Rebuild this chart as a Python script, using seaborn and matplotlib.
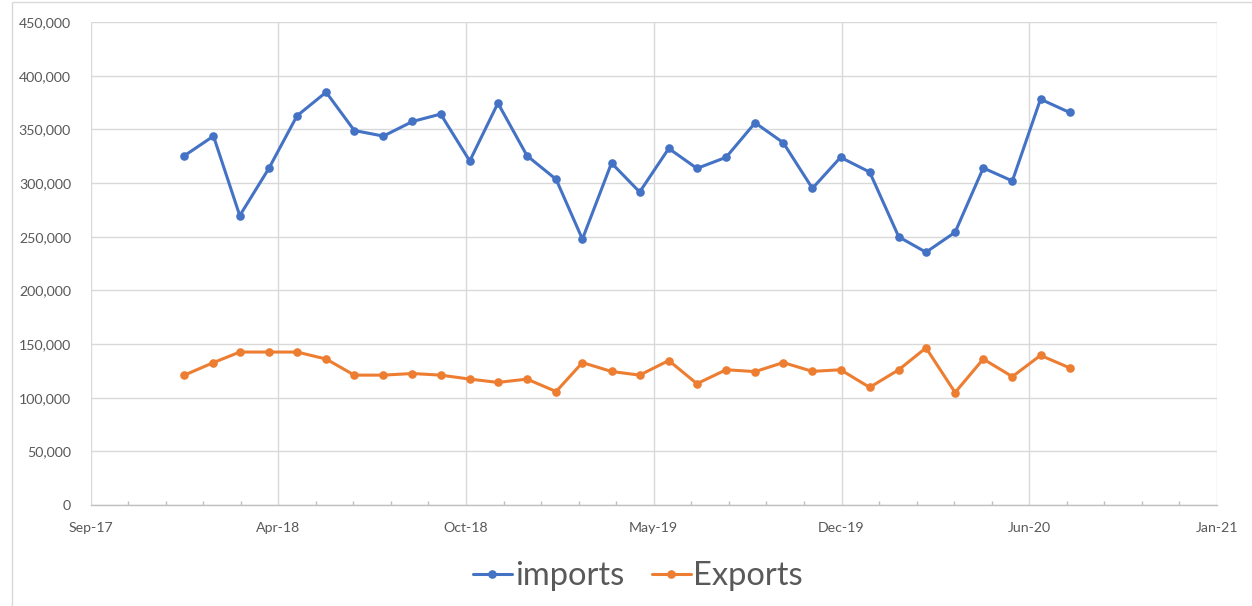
import matplotlib
matplotlib.use("Agg")
import matplotlib.pyplot as plt
import matplotlib.dates as mdates
import matplotlib.ticker as mticker
from matplotlib.patches import Rectangle
import numpy as np
import pandas as pd
import seaborn as sns

# ---------------- data ----------------
months = ["2018-01", "2018-02", "2018-03", "2018-04", "2018-05", "2018-06",
          "2018-07", "2018-08", "2018-09", "2018-10", "2018-11", "2018-12",
          "2019-01", "2019-02", "2019-03", "2019-04", "2019-05", "2019-06",
          "2019-07", "2019-08", "2019-09", "2019-10", "2019-11", "2019-12",
          "2020-01", "2020-02", "2020-03", "2020-04", "2020-05", "2020-06",
          "2020-07", "2020-08"]
imports = [325400, 343700, 269600, 313600, 362600, 384600, 348900, 343700,
           357300, 364200, 320500, 374400, 325400, 303400, 247700, 318600,
           291600, 332200, 313600, 323900, 356100, 337500, 295000, 323900,
           310200, 249800, 235500, 254100, 314000, 301900, 378100, 365700]
exports = [121000, 132700, 142500, 142500, 142500, 136000, 121000, 121000,
           122500, 121000, 117300, 114200, 117300, 105700, 132700, 124400,
           121000, 134600, 113000, 126000, 124300, 132700, 124500, 126000,
           109600, 126000, 146400, 104800, 136000, 119600, 139400, 127800]
series_names = ["imports", "Exports"]
colors = ["#4472C4", "#ED7D31"]
axis_start = "2017-09-23"
major_days = 200
minor_days = 40
n_major = 6

# ---------------- build frame ----------------
dates = pd.to_datetime(months)
df = pd.concat([
    pd.DataFrame({"date": dates, "value": imports, "series": series_names[0]}),
    pd.DataFrame({"date": dates, "value": exports, "series": series_names[1]}),
], ignore_index=True)

sns.set_theme(style="white")
plt.rcParams["font.family"] = ["Lato", "DejaVu Sans"]

W, H = 1252, 606
fig = plt.figure(figsize=(W / 100, H / 100), dpi=100)
ax = fig.add_axes([90.5 / W, 1 - 505 / H, (1217 - 90.5) / W, (505 - 22) / H])

# outer chart border
fig.patches.append(Rectangle((12 / W, -0.2), 1.2, 1.2 - 2 / H,
                             transform=fig.transFigure, fill=False,
                             edgecolor="#D9D9D9", linewidth=1.0, zorder=0))

sns.lineplot(data=df, x="date", y="value", hue="series", style="series",
             palette=dict(zip(series_names, colors)),
             markers={n: "o" for n in series_names},
             dashes={n: "" for n in series_names},
             linewidth=2.2, markersize=6.2, markeredgewidth=0,
             ax=ax, legend=True, zorder=3)

# axes limits / ticks
start = mdates.date2num(pd.Timestamp(axis_start))
ax.set_xlim(start, start + major_days * n_major)
majors = start + major_days * np.arange(n_major + 1)
minors = [m for m in start + minor_days * np.arange(int(major_days * n_major / minor_days) + 1)
          if not np.any(np.isclose(m, majors))]
ax.xaxis.set_major_locator(mticker.FixedLocator(majors))
ax.xaxis.set_minor_locator(mticker.FixedLocator(minors))
ax.xaxis.set_major_formatter(mdates.DateFormatter("%b-%y"))

ax.set_ylim(0, 450000)
ax.yaxis.set_major_locator(mticker.MultipleLocator(50000))
ax.yaxis.set_major_formatter(mticker.FuncFormatter(lambda v, p: f"{v:,.0f}"))

ax.set_xlabel("")
ax.set_ylabel("")

ax.grid(True, which="major", axis="both", color="#D9D9D9", linewidth=1.0, zorder=0)
ax.set_axisbelow(True)
for s in ["left", "top", "right"]:
    ax.spines[s].set_visible(False)
ax.spines["bottom"].set_color("#BFBFBF")
ax.spines["bottom"].set_linewidth(1.0)

ax.tick_params(axis="both", which="major", length=0, labelsize=10.2,
               labelcolor="#595959")
ax.tick_params(axis="x", which="major", pad=12)
ax.tick_params(axis="y", which="major", pad=14)
ax.tick_params(axis="x", which="minor", direction="in", length=3,
               width=1, color="#BFBFBF", bottom=True)

# legend
handles, labels = ax.get_legend_handles_labels()
ax.get_legend().remove()
leg = fig.legend(handles, labels, loc="center", bbox_to_anchor=(638 / W, 1 - 576 / H),
                 ncol=2, frameon=False, fontsize=23.5, handlelength=1.2,
                 handletextpad=0.08, columnspacing=0.85)
for t in leg.get_texts():
    t.set_color("#595959")

fig.savefig("out.png", dpi=100)
